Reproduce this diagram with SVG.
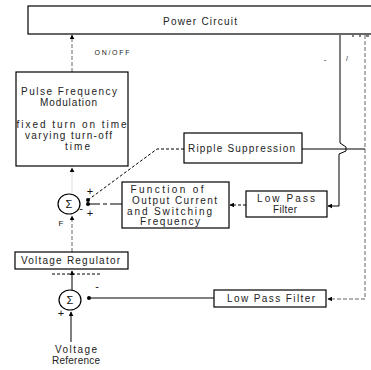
<svg xmlns="http://www.w3.org/2000/svg" width="371" height="370" viewBox="0 0 371 370">
<style>
.box{fill:#fff;stroke:#000;stroke-width:1.2}
.t{font-family:"Liberation Sans",Arial,sans-serif;font-size:10px;fill:#222;text-anchor:middle}
.s{font-family:"Liberation Sans",Arial,sans-serif;font-size:11px;fill:#111;text-anchor:middle}
.c{fill:none;stroke:#000;stroke-width:1}
.d{fill:none;stroke:#000;stroke-width:1;stroke-dasharray:3 2}
.g{fill:none;stroke:#666;stroke-width:1;stroke-dasharray:4 2}
.sum{fill:#fff;stroke:#000;stroke-width:1.2}
</style>
<defs>
<marker id="ah" viewBox="0 0 8 8" refX="7" refY="4" markerWidth="5" markerHeight="5" orient="auto" markerUnits="userSpaceOnUse">
<path d="M0,0 L8,4 L0,8 Z" fill="#000"/>
</marker>
<marker id="dot" viewBox="0 0 6 6" refX="3" refY="3" markerWidth="4" markerHeight="4" markerUnits="userSpaceOnUse">
<circle cx="3" cy="3" r="3" fill="#000"/>
</marker>
</defs>
<rect width="371" height="370" fill="#fff"/>

<g id="connectors">
<path class="g" d="M72,72 V35" marker-end="url(#ah)"/>
<path d="M72,193 V168" stroke="#ddd" stroke-width="1" fill="none" marker-end="url(#ah)"/>
<path class="g" d="M72,252 V216" marker-end="url(#ah)"/>
<path class="c" d="M72,290 V271" marker-end="url(#ah)"/>
<path class="d" d="M52,274 H100"/>
<path class="c" d="M71,342 V312" marker-end="url(#ah)"/>
<path class="c" d="M214,298 H89" marker-end="url(#dot)"/>
<path class="g" d="M365,35 V299 H328" marker-end="url(#ah)"/>
<path class="c" d="M340,35 V143 L346,147 V151 L339,154 V206 H328" marker-end="url(#ah)"/>
<path class="c" d="M365,149 H302"/>
<path class="d" d="M184,149 H157 L88,200" marker-end="url(#dot)"/>
<path d="M122,204 H88" fill="none" stroke="#000" stroke-width="1" stroke-dasharray="12 3 4 3" marker-end="url(#dot)"/>
<path class="d" d="M246,205 H230" marker-end="url(#ah)"/>
<path class="c" d="M352,36 h2 M359,36 h2 M366,36 h3"/>
</g>

<g id="power">
<rect class="box" x="28" y="6" width="350" height="28"/>
<text class="t" x="200" y="25" textLength="74" lengthAdjust="spacing">Power Circuit</text>
</g>
<text class="t" x="112" y="55" style="font-size:7px" textLength="35" lengthAdjust="spacing">ON/OFF</text>
<text class="s" x="325" y="62" style="font-size:8px">-</text>
<text class="s" x="347" y="61" style="font-size:7px">/</text>

<g id="pfm">
<rect class="box" x="16" y="72" width="112" height="94"/>
<text class="t" x="69" y="95" textLength="96" lengthAdjust="spacing">Pulse Frequency</text>
<text class="t" x="68.5" y="106" textLength="57" lengthAdjust="spacing">Modulation</text>
<text class="t" x="71.5" y="128" textLength="110" lengthAdjust="spacing">fixed turn on time</text>
<text class="t" x="68.5" y="139" textLength="87" lengthAdjust="spacing">varying turn-off</text>
<text class="t" x="77.5" y="150" textLength="25" lengthAdjust="spacing">time</text>
</g>

<g id="ripple">
<rect class="box" x="184" y="133" width="118" height="30"/>
<text class="t" x="241.5" y="152" textLength="107" lengthAdjust="spacing">Ripple Suppression</text>
</g>

<g id="function">
<rect class="box" x="122" y="182" width="107" height="46"/>
<text class="t" x="167" y="193" textLength="73" lengthAdjust="spacing">Function of</text>
<text class="t" x="174.5" y="204" textLength="85" lengthAdjust="spacing">Output Current</text>
<text class="t" x="169.5" y="215" textLength="85" lengthAdjust="spacing">and Switching</text>
<text class="t" x="170" y="225" textLength="60" lengthAdjust="spacing">Frequency</text>
</g>

<g id="lpf1">
<rect class="box" x="246" y="191" width="81" height="26"/>
<text class="t" x="286" y="202" textLength="58" lengthAdjust="spacing">Low Pass</text>
<text class="t" x="285" y="213" textLength="24" lengthAdjust="spacing">Filter</text>
</g>

<g id="sum1">
<ellipse class="sum" cx="69" cy="204" rx="11" ry="10"/>
<text class="s" x="69" y="208">Σ</text>
<text class="s" x="90" y="195">+</text>
<text class="s" x="81" y="212">-</text>
<text class="s" x="90" y="217">+</text>
<text class="s" x="61" y="226" style="font-size:8px">F</text>
</g>

<g id="vreg">
<rect class="box" x="15" y="252" width="113" height="17"/>
<text class="t" x="70.5" y="264" textLength="99" lengthAdjust="spacing">Voltage Regulator</text>
</g>

<g id="sum2">
<ellipse class="sum" cx="70" cy="300" rx="11" ry="10"/>
<text class="s" x="70" y="304">Σ</text>
<text class="s" x="97" y="290">-</text>
<text class="s" x="61" y="317">+</text>
</g>

<g id="lpf2">
<rect class="box" x="214" y="290" width="112" height="17"/>
<text class="t" x="271" y="302" textLength="88" lengthAdjust="spacing">Low Pass Filter</text>
</g>

<g id="vref">
<text class="t" x="76" y="353" textLength="42" lengthAdjust="spacing">Voltage</text>
<text class="t" x="76" y="364" textLength="48" lengthAdjust="spacing">Reference</text>
</g>
</svg>
